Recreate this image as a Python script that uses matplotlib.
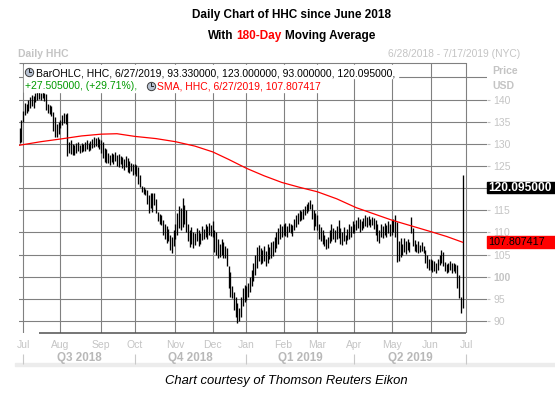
import matplotlib
matplotlib.use("Agg")
import matplotlib.pyplot as plt
import matplotlib.transforms as mtransforms
from matplotlib.patches import Rectangle
from matplotlib.lines import Line2D
import numpy as np
import pandas as pd

plt.rcParams['font.family'] = ['Liberation Sans', 'DejaVu Sans']

W, H, DPI = 555, 396, 100

# ---------------- data ----------------
title_line1 = "Daily Chart of HHC since June 2018"
title_line2 = ["With ", "180-Day", " Moving Average"]
caption = "Chart courtesy of Thomson Reuters Eikon"
chart_name = "Daily HHC"
date_range_text = "6/28/2018 - 7/17/2019 (NYC)"
legend_row1 = "BarOHLC, HHC, 6/27/2019, 93.330000, 123.000000, 93.000000, 120.095000,"
legend_row2_green = "+27.505000, (+29.71%), "
legend_row2_red = "SMA, HHC, 6/27/2019, 107.807417"

holidays = ['2018-07-04', '2018-09-03', '2018-11-22', '2018-12-05', '2018-12-25',
            '2019-01-01', '2019-01-21', '2019-02-18', '2019-04-19', '2019-05-27',
            '2019-07-04']
axis_start, data_end, axis_end = '2018-06-28', '2019-06-27', '2019-07-17'

highs = [
    133.5, 135.4,  # Jun 2018
    137.5, 139.2, 139.0, 140.0, 140.5, 141.0, 140.8, 141.5, 141.8, 142.0, 141.6,
    141.9, 141.5, 141.2, 139.0, 138.8, 138.5, 137.2, 136.0, 134.5, 135.0,  # Jul
    135.5, 136.5, 137.0, 136.8, 137.0, 130.5, 130.8, 130.0, 129.8, 130.2, 130.5, 129.8,
    130.3, 130.0, 130.4, 130.8, 130.2, 130.6, 131.0, 131.5, 131.3, 131.6, 131.2,  # Aug
    130.8, 130.4, 129.0, 128.8, 128.0, 127.5, 128.0, 127.8, 128.2, 127.6, 127.8,
    127.2, 127.0, 126.5, 127.2, 126.8, 126.2, 125.8, 125.5,  # Sep
    125.5, 125.2, 124.8, 123.0, 120.5, 120.3, 119.8, 119.5, 118.5, 119.0, 118.9, 119.0,
    117.5, 114.6, 114.2, 113.9, 112.8, 112.0, 111.5, 110.8, 109.5, 109.0, 110.5,  # Oct
    112.0, 114.5, 116.0, 115.5, 117.8, 116.2, 115.0, 112.0, 110.5, 111.2, 110.0,
    109.8, 111.0, 110.5, 109.8, 111.5, 110.8, 112.0, 111.5, 112.1, 111.8,  # Nov
    112.6, 110.5, 110.0, 108.5, 107.5, 108.5, 107.8, 107.0, 106.5, 102.5, 101.0,
    98.0, 96.5, 95.4, 94.0, 93.0, 95.5, 97.5, 98.1,  # Dec
    98.0, 98.5, 100.0, 101.5, 103.1, 105.0, 106.8, 107.2, 106.5, 106.0, 107.0,
    105.8, 107.5, 106.8, 107.8, 108.0, 109.0, 110.0, 111.0, 112.0, 111.5,  # Jan 2019
    112.0, 112.1, 111.5, 112.2, 112.0, 111.8, 113.0, 114.0, 114.5, 115.0, 114.8,
    115.2, 116.0, 116.5, 116.8, 117.3, 116.5, 115.0, 114.5,  # Feb
    114.0, 112.0, 111.2, 110.5, 109.5, 108.5, 109.0, 110.5, 112.0, 111.0, 110.5,
    111.5, 112.8, 111.0, 110.0, 111.2, 109.5, 110.8, 112.0, 111.5, 112.5,  # Mar
    112.0, 112.8, 113.5, 113.0, 112.5, 113.2, 113.9, 113.5, 113.8, 113.0, 113.6,
    113.2, 112.8, 112.0, 110.5, 112.0, 111.5, 112.1, 111.8, 112.6, 112.0,  # Apr
    112.8, 113.0, 113.9, 112.4, 108.0, 108.7, 107.5, 108.7, 108.0, 108.5, 107.8,
    113.5, 111.0, 108.3, 107.5, 108.0, 107.2, 107.8, 107.0, 106.0, 105.0, 104.0,  # May
    104.0, 103.8, 103.5, 103.0, 104.0, 105.0, 106.0, 105.5, 103.3, 102.8, 103.0,
    103.5, 103.0, 103.2, 102.8, 102.6, 100.4, 95.5, 123.0,  # Jun
]
lows = [
    130.3, 130.5,  # Jun 2018
    135.0, 136.5, 137.0, 137.5, 138.0, 138.5, 138.0, 139.5, 140.0, 140.2, 140.0,
    140.3, 139.8, 137.6, 137.0, 136.8, 136.2, 133.0, 131.6, 131.5, 132.2,  # Jul
    133.5, 134.3, 134.8, 134.5, 127.2, 128.0, 127.8, 127.5, 127.6, 128.0, 128.3, 127.9,
    128.2, 128.5, 128.3, 128.8, 128.4, 128.7, 129.0, 129.3, 129.5, 129.2, 128.8,  # Aug
    128.0, 126.8, 126.0, 125.8, 125.7, 125.2, 126.0, 125.5, 126.2, 125.0, 124.8,
    125.4, 124.5, 124.2, 124.8, 123.6, 123.4, 123.8, 123.0,  # Sep
    123.2, 122.8, 121.0, 120.3, 119.2, 118.8, 118.4, 116.5, 114.5, 115.5, 114.6, 116.2,
    114.4, 112.5, 112.0, 111.7, 109.5, 108.5, 107.6, 108.0, 106.0, 105.4, 107.0,  # Oct
    108.5, 109.5, 111.0, 110.5, 111.2, 112.0, 110.0, 108.0, 106.8, 107.5, 106.5,
    107.2, 108.0, 107.0, 107.5, 108.2, 108.5, 109.0, 108.6, 109.5, 109.2,  # Nov
    109.0, 105.5, 105.0, 104.2, 104.5, 105.0, 104.2, 104.2, 102.5, 97.5, 95.5,
    95.2, 92.5, 91.0, 89.6, 90.0, 91.0, 93.5, 94.3,  # Dec
    94.8, 95.5, 96.5, 98.0, 99.0, 100.5, 102.0, 103.5, 102.8, 103.0, 103.5,
    102.5, 103.2, 104.0, 104.2, 104.8, 105.5, 106.5, 107.5, 108.5, 109.0,  # Jan 2019
    109.5, 109.2, 109.0, 110.0, 109.8, 109.3, 110.5, 111.3, 112.0, 112.5, 112.8,
    113.0, 114.0, 114.4, 114.8, 115.2, 113.0, 110.6, 111.5,  # Feb
    110.5, 108.5, 108.0, 107.5, 107.0, 106.2, 106.5, 107.6, 108.0, 108.5, 107.8,
    108.6, 108.8, 107.5, 107.2, 108.0, 107.5, 108.2, 108.5, 109.0, 109.8,  # Mar
    109.9, 110.5, 111.0, 110.2, 110.5, 111.0, 111.5, 111.2, 111.6, 111.2, 111.8,
    110.8, 109.5, 108.0, 107.6, 109.0, 108.8, 109.5, 109.0, 109.8, 109.2,  # Apr
    109.5, 110.2, 109.0, 103.3, 103.5, 104.5, 105.0, 105.6, 105.2, 106.0, 105.5,
    109.9, 107.0, 105.8, 105.5, 105.3, 105.6, 105.8, 105.3, 103.0, 102.0, 101.5,  # May
    101.5, 101.0, 101.2, 100.8, 101.5, 102.6, 103.0, 102.5, 101.2, 100.8, 101.0,
    101.5, 100.8, 101.2, 100.8, 97.5, 95.2, 91.9, 93.0,  # Jun
]

sma_dates = ['2018-06-28', '2018-07-17', '2018-08-01', '2018-08-17', '2018-09-04',
             '2018-09-17', '2018-10-01', '2018-10-17', '2018-11-01', '2018-11-16',
             '2018-12-03', '2018-12-17', '2019-01-02', '2019-01-16', '2019-01-31',
             '2019-02-14', '2019-03-01', '2019-03-18', '2019-04-02', '2019-04-16',
             '2019-05-01', '2019-05-16', '2019-06-03', '2019-06-14', '2019-06-27']
sma_values = [129.7, 130.5, 131.1, 131.8, 132.2, 132.3, 131.7, 131.2, 130.5, 129.5,
              128.2, 126.5, 124.5, 122.8, 121.3, 120.2, 119.2, 117.6, 115.6, 114.2,
              112.8, 111.5, 110.2, 109.1, 107.8]

price_ticks = [90, 95, 100, 105, 110, 115, 120, 125, 130, 135, 140]
extra_grid = [145]
last_close = 120.095
last_sma = 107.807417
last_close_label = "120.095000"
last_sma_label = "107.807417"

# ---------------- calendar ----------------
cal = pd.bdate_range(axis_start, axis_end)
cal = cal[~cal.isin(pd.to_datetime(holidays))]
pos = {d: i for i, d in enumerate(cal)}
data_days = cal[cal <= pd.Timestamp(data_end)]
xidx = np.array([pos[d] for d in data_days])
month_starts = [i for i in range(1, len(cal)) if cal[i].month != cal[i - 1].month]
month_labels = [cal[i].strftime('%b') for i in month_starts]
q_bounds = [i for i in month_starts if cal[i].month in (1, 4, 7, 10)]
q_mids = [(a + b) / 2 for a, b in zip(q_bounds[:-1], q_bounds[1:])]
q_labels = [f"Q{(cal[a].month - 1) // 3 + 1} {cal[a].year}" for a in q_bounds[:-1]]

GRID = '#808080'
LGRAY = '#c4c4c4'

fig = plt.figure(figsize=(W / DPI, H / DPI), dpi=DPI)
fig.patch.set_facecolor('white')
renderer = fig.canvas.get_renderer()
ID = mtransforms.IdentityTransform()

ax = fig.add_axes([19 / W, 1 - 333 / H, 468 / W, 270 / H])
x0, x1 = -0.3, len(cal) - 0.2
y0, y1 = 87.3, 148.27
ax.set_xlim(x0, x1)
ax.set_ylim(y0, y1)
for s in ax.spines.values():
    s.set_visible(False)
ax.set_facecolor('white')

for lv in price_ticks + extra_grid:
    ax.axhline(lv, color=GRID, lw=0.8, zorder=1)
for m in month_starts:
    ax.axvline(m, color=GRID, lw=0.8, zorder=1)
ax.hlines(y1, x0, month_starts[-1], color=GRID, lw=0.8, zorder=1, clip_on=False)
ax.hlines(y0, 11, month_starts[-1], color='#505050', lw=1.1, zorder=2, clip_on=False)

ax.vlines(xidx, lows, highs, color='black', lw=0.95, zorder=3)
sma_x = [pos[pd.Timestamp(d)] for d in sma_dates]
ax.plot(sma_x, sma_values, color='#ff0000', lw=0.9, zorder=4)

# y axis on the right
ax.yaxis.tick_right()
ax.set_yticks(price_ticks, labels=[str(t) for t in price_ticks])
ax.tick_params(axis='y', length=2.3, width=0.8, color=LGRAY, labelcolor=LGRAY,
               pad=2.2, labelsize=7.5)
for lbl in ax.get_yticklabels():
    if lbl.get_text() == '100':
        lbl.set_fontweight('bold')
    if lbl.get_text() == '120':  # covered by the last-close box in the original
        lbl.set_visible(False)

# x axis: months + quarters
ax.set_xticks(month_starts, labels=month_labels)
ax.set_xticks(q_mids, labels=q_labels, minor=True)
ax.tick_params(axis='x', which='major', length=0, pad=5.0, labelsize=7.5, labelcolor=LGRAY)
ax.tick_params(axis='x', which='minor', length=0, pad=14.0, labelsize=8.4, labelcolor='#b8b8b8')
for lbl in ax.get_xticklabels(minor=True):
    lbl.set_fontweight('bold')
bt = mtransforms.blended_transform_factory(ax.transData, ax.transAxes)
ax.vlines(q_bounds, -21 / 270, -31 / 270, transform=bt, color='#c8c8c8', lw=0.8, clip_on=False)
fig.add_artist(Rectangle((15, H - 366), W - 15, 3, transform=ID, color='#ececec', zorder=0))


# ---------------- text helpers ----------------
def put(x, y, s, **kw):
    return fig.text(x / W, 1 - y / H, s, **kw)


def wid(s, size, **kw):
    t = fig.text(0, 0, s, fontsize=size, **kw)
    w = t.get_window_extent(renderer).width
    t.remove()
    return w


def fit_size(s, target, **kw):
    return 10 * target / wid(s, 10, **kw)


def clock(cx, cy):
    fx, fy = cx / W, 1 - cy / H
    fig.add_artist(Line2D([fx], [fy], marker='o', ms=6.0, mfc='#b8c2d2', mec='#3c3c3c',
                          mew=0.7, transform=fig.transFigure, zorder=6))
    fig.add_artist(Line2D([cx, cx, cx + 2.2], [H - cy + 2.6, H - cy, H - cy], color='#202020',
                          lw=0.7, transform=ID, zorder=7))


# title
ts = fit_size(title_line1, 198, fontweight='bold')
put(291.5, 18.3, title_line1, fontsize=ts, fontweight='bold', ha='center', va='baseline')
full2 = ''.join(title_line2)
tw = wid(full2, ts, fontweight='bold')
start = 291.5 - tw / 2
colors2 = ['black', '#ff0000', 'black']
acc = ''
for seg, col in zip(title_line2, colors2):
    acc += seg
    s = seg.strip()
    off = wid(acc.rstrip(), ts, fontweight='bold') - wid(s, ts, fontweight='bold')
    put(start + off, 38.7, s, fontsize=ts, fontweight='bold', color=col, ha='left', va='baseline')

# header labels
put(18, 57.3, chart_name, fontsize=fit_size(chart_name, 50, fontweight='bold'),
    fontweight='bold', color=LGRAY, va='baseline')
put(520, 57.3, date_range_text, fontsize=fit_size(date_range_text, 132), color=LGRAY,
    ha='right', va='baseline')
put(492.7, 74, "Price", fontsize=7.6, fontweight='bold', color=LGRAY, va='baseline')
put(492.7, 89, "USD", fontsize=7.6, fontweight='bold', color=LGRAY, va='baseline')

# legend overlay (white background)
fig.add_artist(Rectangle((24, H - 78), 374, 13, transform=ID, color='white', zorder=5))
fig.add_artist(Rectangle((24, H - 91.5), 299, 13.5, transform=ID, color='white', zorder=5))
ls = fit_size(legend_row1, 359)
put(36, 76, legend_row1, fontsize=ls, color='black', va='baseline', zorder=6)
put(25, 89.3, legend_row2_green.rstrip(), fontsize=ls, color='#009a00', va='baseline', zorder=6)
put(156.7, 89.3, legend_row2_red, fontsize=ls, color='#ff0000', va='baseline', zorder=6)
clock(29, 72)
clock(151, 85.5)

# last value boxes
for val, lab, fc, tc, bold in [(last_close, last_close_label, 'black', 'white', True),
                               (last_sma, last_sma_label, '#ff0000', 'black', False)]:
    yd = ax.transData.transform((0, val))[1]
    fig.add_artist(Rectangle((487, yd - 5.7), W - 487, 11.4, transform=ID, color=fc, zorder=8))
    fw = 'bold' if bold else 'normal'
    tgt = 62.7 if bold else 56.7
    fig.text(488.5 / W, yd / H, lab, fontsize=fit_size(lab, tgt, fontweight=fw),
             fontweight=fw, color=tc, va='center', ha='left', zorder=9)

# caption
put(286, 384, caption, fontsize=fit_size(caption, 242, style='italic'), style='italic',
    ha='center', va='baseline', color='black')

fig.savefig('out.png', dpi=DPI, facecolor='white')
